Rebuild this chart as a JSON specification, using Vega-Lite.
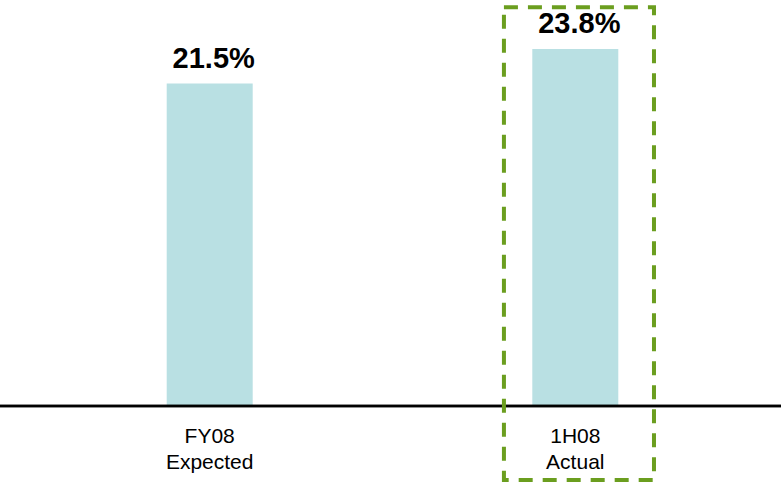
{
  "$schema": "https://vega.github.io/schema/vega-lite/v6.json",
  "width": 781,
  "height": 489,
  "autosize": {"type": "none"},
  "padding": 0,
  "background": "white",
  "config": {"view": {"stroke": null}, "font": "Liberation Sans"},
  "data": {"values": [
    {"period": "FY08 Expected", "value": 0.215},
    {"period": "1H08 Actual", "value": 0.238}
  ]},
  "layer": [
    {
      "mark": {"type": "bar", "color": "#B9E0E3"},
      "encoding": {
        "x": {"field": "period", "type": "nominal", "sort": null,
          "scale": {"paddingInner": 0.7648, "paddingOuter": 0.4505, "range": [2, 783]},
          "axis": {"orient": "bottom", "offset": -83, "title": null, "domain": false, "ticks": false,
            "labelAngle": 0, "labelFontSize": 21, "labelColor": "black", "labelFont": "Liberation Sans",
            "labelExpr": "split(datum.label, ' ')", "labelLineHeight": 26, "labelPadding": 19}},
        "y": {"field": "value", "type": "quantitative",
          "scale": {"domain": [-0.05533, 0.27067], "nice": false, "zero": false}, "axis": null},
        "y2": {"datum": 0}
      }
    },
    {
      "mark": {"type": "rule", "color": "black", "strokeWidth": 2.5},
      "encoding": {"y": {"datum": 0, "type": "quantitative", "axis": null}}
    },
    {
      "mark": {"type": "text", "fontSize": 29, "fontWeight": "bold", "color": "black", "baseline": "alphabetic", "dy": -16, "dx": 4},
      "encoding": {
        "x": {"field": "period", "type": "nominal", "sort": null},
        "y": {"field": "value", "type": "quantitative", "axis": null},
        "text": {"field": "value", "type": "quantitative", "format": ".1%"}
      }
    },
    {
      "transform": [{"filter": "datum.period === '1H08 Actual'"}],
      "mark": {"type": "rect", "fillOpacity": 0, "stroke": "#6B9E1F", "strokeWidth": 4, "strokeDash": [14, 10]},
      "encoding": {
        "x": {"field": "period", "type": "nominal", "sort": null, "bandPosition": -0.33},
        "x2": {"field": "period", "bandPosition": 1.415},
        "y": {"datum": 0.2658, "type": "quantitative", "axis": null},
        "y2": {"datum": -0.0493}
      }
    }
  ]
}
